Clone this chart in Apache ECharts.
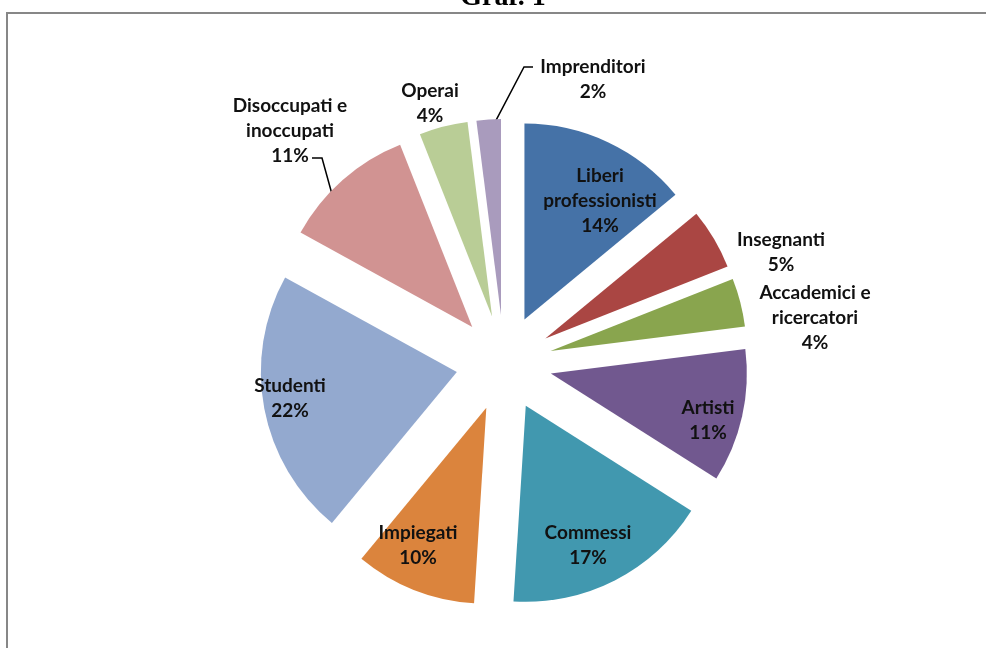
<!DOCTYPE html>
<html>
<head>
<meta charset="utf-8">
<script src="https://cdn.jsdelivr.net/npm/echarts@6/dist/echarts.min.js"></script>
<style>
  html, body { margin: 0; padding: 0; background: #ffffff; }
  #chart { width: 986px; height: 648px; }
</style>
</head>
<body>
<div id="chart"></div>
<script>
// Professional status of respondents (percent of total)
const categories = [
  'Liberi professionisti', 'Insegnanti', 'Accademici e ricercatori', 'Artisti',
  'Commessi', 'Impiegati', 'Studenti', 'Disoccupati e inoccupati', 'Operai', 'Imprenditori'
];
const labelNames = [
  'Liberi\nprofessionisti', 'Insegnanti', 'Accademici e\nricercatori', 'Artisti',
  'Commessi', 'Impiegati', 'Studenti', 'Disoccupati e\ninoccupati', 'Operai', 'Imprenditori'
];
const shares = [14, 5, 4, 11, 17, 10, 22, 11, 4, 2];
const sliceColors = [
  '#4572A7', '#AA4643', '#89A54E', '#71588F', '#4198AF',
  '#DB843D', '#93A9CF', '#D19392', '#B9CD96', '#A99BBD'
];

// Pie geometry (pixels)
const CX = 504, CY = 363, R = 196, EXPLODE = 48;

// Label centres, as offsets from the pie centre
const labelOffsets = [
  [96, -162], [277, -111], [311, -45], [204, 57], [84, 182],
  [-86, 182], [-214, 35], [-214, -232], [-74, -260], [89, -284]
];
// Leader lines: attach point relative to label centre, elbow step, angle tweak on the arc
const leaders = {
  7: { attach: [22, 27], elbow: 10, tweak: -5, reach: 0.99 },
  9: { attach: [-60, -12], elbow: -9, tweak: 1, reach: 0.96 }
};

const total = shares.reduce((a, b) => a + b, 0);
const midAngles = [];
{
  let acc = 0;
  shares.forEach(v => { midAngles.push((acc + v / 2) / total * 360); acc += v; });
}

function polar(cx, cy, r, deg) {
  const a = deg * Math.PI / 180;
  return [cx + r * Math.sin(a), cy - r * Math.cos(a)];
}

// Each slice is pulled out along its own bisector: one pie per slice,
// all sharing the same values so the angles line up, only slice i painted.
function explodedSeries(i) {
  const centre = polar(CX, CY, EXPLODE, midAngles[i]);
  return {
    type: 'pie',
    silent: true,
    center: centre,
    radius: [0, R],
    startAngle: 90,
    clockwise: true,
    avoidLabelOverlap: false,
    emphasis: { disabled: true },
    itemStyle: { borderWidth: 0 },
    data: categories.map((name, j) => ({
      name: name,
      value: shares[j],
      itemStyle: { color: j === i ? sliceColors[j] : 'rgba(0,0,0,0)' },
      label: { show: j === i },
      labelLine: { show: j === i && leaders[j] !== undefined }
    })),
    label: {
      position: 'outside',
      formatter: p => labelNames[p.dataIndex] + '\n' + Math.round(p.percent) + '%',
      fontFamily: 'Lato, "Open Sans", sans-serif',
      fontWeight: 'bold',
      fontSize: 19,
      lineHeight: 25,
      color: '#111111',
      align: 'center'
    },
    labelLine: {
      lineStyle: { color: '#000000', width: 1.5 },
      length: 10,
      length2: 10
    },
    labelLayout: function (params) {
      const k = params.dataIndex;
      const x = CX + labelOffsets[k][0];
      const y = CY + labelOffsets[k][1];
      const out = { x: x, y: y, align: 'center', verticalAlign: 'middle' };
      const ld = leaders[k];
      if (ld) {
        const onSlice = polar(centre[0], centre[1], R * ld.reach, midAngles[k] + ld.tweak);
        const attach = [x + ld.attach[0], y + ld.attach[1]];
        const elbow = [attach[0] + ld.elbow, attach[1]];
        out.labelLinePoints = [onSlice, elbow, attach];
      }
      return out;
    }
  };
}

const chart = echarts.init(document.getElementById('chart'), null, { renderer: 'canvas' });
chart.setOption({
  animation: false,
  backgroundColor: '#ffffff',
  graphic: [
    {
      type: 'rect',
      z: 0,
      shape: { x: 7, y: 13, width: 1000, height: 700 },
      style: { fill: 'none', stroke: '#878787', lineWidth: 2 }
    },
    {
      type: 'text',
      z: 1,
      x: 503,
      y: -2,
      style: {
        text: 'Graf. 1',
        font: 'bold 28px "Liberation Serif", "Times New Roman", serif',
        fill: '#000000',
        align: 'center',
        verticalAlign: 'middle'
      }
    }
  ],
  series: shares.map((v, i) => explodedSeries(i))
});
</script>
</body>
</html>
